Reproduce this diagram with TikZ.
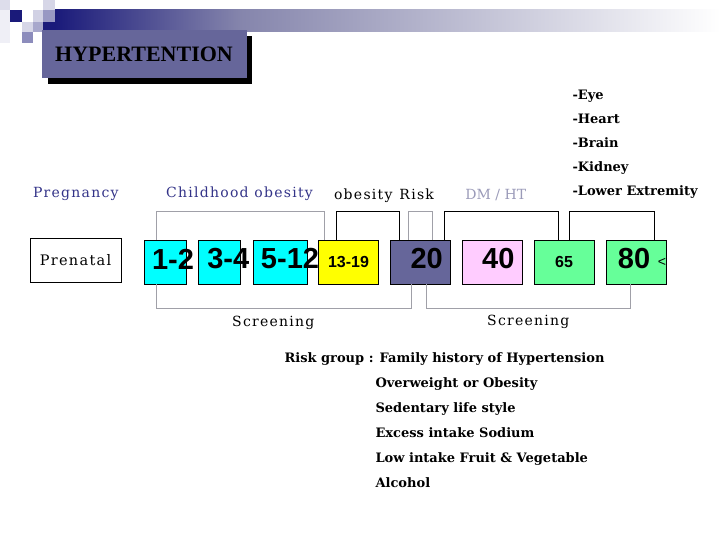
\documentclass[tikz,border=0pt]{standalone}
\usepackage{fontspec}
\setmainfont{DejaVu Serif}
\newfontfamily\numfont{Liberation Sans}
\newfontfamily\titlefont{Liberation Serif}
\definecolor{agecyan}{HTML}{00FFFF}
\definecolor{teenyellow}{HTML}{FFFF00}
\definecolor{riskslate}{HTML}{66669A}
\definecolor{dmpink}{HTML}{FFCCFF}
\definecolor{oldgreen}{HTML}{66FF99}
\definecolor{linegray}{HTML}{A0A0A8}
\definecolor{labelblue}{HTML}{333388}
\definecolor{dmgray}{HTML}{9A9AB8}
\definecolor{bandnavy}{HTML}{1A1A7A}
\definecolor{bandmid}{HTML}{8585AC}

\begin{document}
\begin{tikzpicture}[x=1pt,y=-1pt,
  agebox/.style={draw=black,line width=0.8pt,minimum height=44pt,inner sep=0pt},
  bignum/.style={font=\numfont\bfseries\fontsize{29}{29}\selectfont},
  smallnum/.style={font=\numfont\bfseries\fontsize{16}{16}\selectfont},
  toplabel/.style={anchor=base,font=\fontsize{14}{14}\selectfont\addfontfeature{LetterSpace=9}},
  listlabel/.style={anchor=base west,font=\bfseries\fontsize{13}{13}\selectfont},
  grayline/.style={draw=linegray,line width=0.8pt},
  blackline/.style={draw=black,line width=0.8pt}]
\useasboundingbox (0,0) rectangle (720,540);
% header decoration
\fill[color=bandnavy!15] (0,0) rectangle (10,10);
\fill[color=bandnavy!7] (0,10) rectangle (10,43);
\fill[color=bandnavy] (10,10) rectangle (22,22);
\fill[color=bandnavy!18] (22,22) rectangle (33,32);
\fill[color=bandnavy!20] (33,10) rectangle (43,22);
\fill[color=bandnavy!38] (33,22) rectangle (43,32);
\fill[color=bandnavy!50] (22,32) rectangle (33,43);
\fill[color=bandnavy!18] (43,0) rectangle (55,10);
\fill[color=bandnavy!45] (43,10) rectangle (55,22);
\fill[color=bandnavy] (43,22) rectangle (55,32);
\shade[left color=bandnavy,right color=bandmid] (55,10) rectangle (240,32);
\shade[left color=bandmid,right color=white] (240,10) rectangle (720,32);
% title
\fill[black] (48,36) rectangle (252,84);
\node[fill=riskslate,minimum width=205pt,minimum height=48pt,inner sep=0pt] (title) at (144,54) {};
\node[anchor=base,font=\titlefont\bfseries\fontsize{22}{22}\selectfont] (titletext) at (144,61.5) {HYPERTENTION};
% age boxes
\node[agebox,fill=white,minimum width=91pt,font=\fontsize{14.5}{14.5}\selectfont\addfontfeature{LetterSpace=9}] (prenatal) at (75.5,260.3) {Prenatal};
\node[agebox,fill=agecyan,minimum width=42pt] (b12) at (165,262) {};
\node[agebox,fill=agecyan,minimum width=42.5pt] (b34) at (219.5,262) {};
\node[agebox,fill=agecyan,minimum width=54pt] (b512) at (280,262) {};
\node[agebox,fill=teenyellow,minimum width=60pt] (b1319) at (348.3,262) {};
\node[agebox,fill=riskslate,minimum width=60pt] (b20) at (420,262) {};
\node[agebox,fill=dmpink,minimum width=60pt] (b40) at (492.5,262) {};
\node[agebox,fill=oldgreen,minimum width=60pt] (b65) at (564.3,262) {};
\node[agebox,fill=oldgreen,minimum width=60pt] (b80) at (636.7,262) {};
\node[bignum] (n12) at (173,259) {1-2};
\node[bignum] (n34) at (228.3,259) {3-4};
\node[bignum] (n512) at (290,259) {5-12};
\node[smallnum] (n1319) at (348.5,262) {13-19};
\node[bignum] (n20) at (426.7,259) {20};
\node[bignum] (n40) at (498.3,259) {40};
\node[smallnum] (n65) at (564,262) {65};
\node[bignum] (n80) at (634,259) {80};
\node[smallnum,font=\numfont\fontsize{14}{14}\selectfont] (lt) at (662,262) {<};
% brackets
\draw[grayline] ([xshift=12.7pt]b12.north west) -- ++(0,-28.3) -| ([xshift=6pt]b1319.north west);
\draw[grayline] ([xshift=18.3pt]b20.north west) -- ++(0,-28.3) -| ([xshift=42.7pt]b20.north west);
\draw[blackline] ([xshift=18.4pt]b1319.north west) -- ++(0,-28.3) -| ([xshift=9.3pt]b20.north west);
\draw[blackline] ([xshift=-5.7pt]b20.north east) -- ++(0,-28.3) -| ([xshift=24pt]b65.north west);
\draw[blackline] ([xshift=35.7pt]b65.north west) -- ++(0,-28.3) -| ([xshift=47.6pt]b80.north west);
\draw[grayline] ([xshift=12.7pt]b12.south west) -- ++(0,24) -| ([xshift=21.7pt]b20.south west);
\draw[grayline] ([xshift=36.7pt]b20.south west) -- ++(0,24) -| ([xshift=24pt]b80.south west);
% labels
\node[toplabel,text=labelblue] (pregnancy) at (75.8,197.5) {Pregnancy};
\node[toplabel,text=labelblue] (childhood) at (239.5,197.5) {Childhood obesity};
\node[toplabel] (obrisk) at (384,200) {obesity\enspace Risk};
\node[toplabel,text=dmgray,font=\fontsize{14}{14}\selectfont] (dmht) at (495.8,199.3) {DM / HT};
\node[toplabel] (screen1) at (273.3,326.7) {Screening};
\node[toplabel] (screen2) at (528.3,325) {Screening};
\node[listlabel] (eye) at (569,99.5) {-Eye};
\node[listlabel] (heart) at (569,123.5) {-Heart};
\node[listlabel] (brain) at (569,147.5) {-Brain};
\node[listlabel] (kidney) at (569,171.5) {-Kidney};
\node[listlabel] (lower) at (569,195.7) {-Lower Extremity};
\node[listlabel] (riskgroup) at (281,362.7) {Risk group : Family history of Hypertension};
\node[listlabel] (overweight) at (372,387.7) {Overweight or Obesity};
\node[listlabel] (sedentary) at (372,412.7) {Sedentary life style};
\node[listlabel] (sodium) at (372,437.7) {Excess intake Sodium};
\node[listlabel] (fruit) at (372,462.7) {Low intake Fruit \& Vegetable};
\node[listlabel] (alcohol) at (372,487.7) {Alcohol};
\end{tikzpicture}
\end{document}
